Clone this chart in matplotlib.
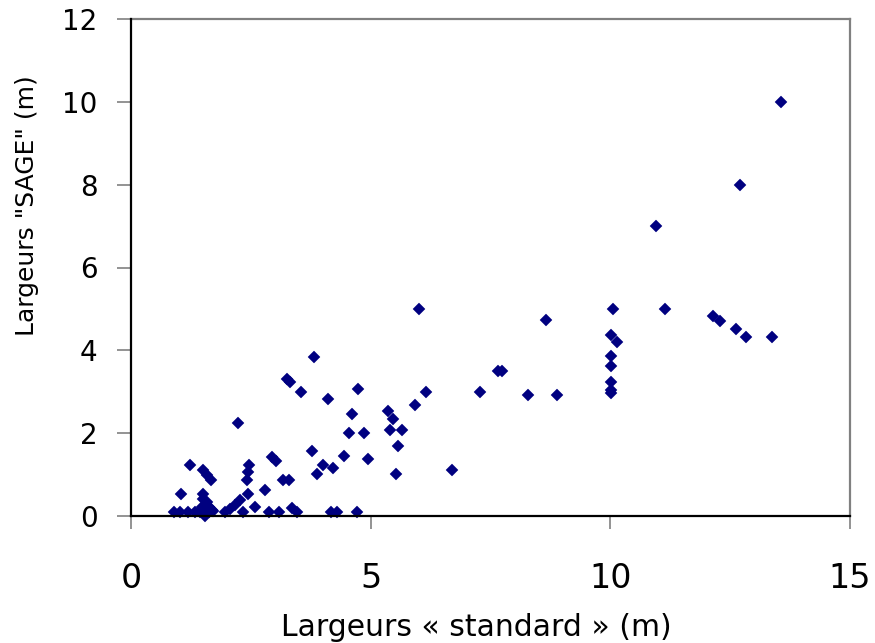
import matplotlib
matplotlib.use("Agg")
import matplotlib.pyplot as plt

# Largeurs « standard » (m)
x_standard = [
    13.56, 12.71, 10.95, 6.01, 10.06, 11.15, 8.65, 12.15, 12.28, 12.62,
    12.83, 13.37, 10.01, 10.13, 10.01, 10.01, 10.01, 10.01, 10.01, 7.65,
    7.74, 7.28, 8.28, 8.89, 6.15, 5.93, 3.82, 3.25, 3.32, 3.55,
    4.11, 4.74, 4.61, 5.36, 5.47, 4.55, 4.86, 5.40, 5.65, 5.57,
    3.77, 4.44, 4.94, 4.00, 4.21, 3.88, 5.53, 6.70, 3.18, 3.30,
    3.36, 3.46, 4.17, 4.30, 4.71, 2.23, 1.23, 1.50, 1.58, 1.67,
    2.94, 3.03, 2.46, 2.44, 2.42, 2.80, 2.44, 2.27, 2.17, 2.59,
    2.07, 1.96, 2.34, 2.88, 3.09, 1.04, 1.50, 0.90, 1.02, 1.19,
    1.34, 1.44, 1.50, 1.56, 1.62, 1.68, 1.48, 1.55, 1.62, 1.55,
    1.72, 1.58,
]
# Largeurs "SAGE" (m)
y_sage = [
    10.00, 8.00, 7.00, 5.00, 5.00, 5.00, 4.73, 4.83, 4.72, 4.51,
    4.33, 4.33, 4.38, 4.19, 3.86, 3.62, 3.24, 3.05, 2.97, 3.50,
    3.50, 2.99, 2.92, 2.92, 2.99, 2.68, 3.84, 3.30, 3.24, 2.99,
    2.82, 3.07, 2.46, 2.54, 2.34, 2.00, 2.00, 2.08, 2.08, 1.69,
    1.57, 1.45, 1.38, 1.23, 1.16, 1.01, 1.01, 1.10, 0.87, 0.87,
    0.19, 0.10, 0.10, 0.10, 0.10, 2.24, 1.23, 1.10, 1.00, 0.88,
    1.42, 1.32, 1.23, 1.06, 0.87, 0.63, 0.52, 0.39, 0.27, 0.22,
    0.17, 0.10, 0.10, 0.10, 0.10, 0.52, 0.52, 0.10, 0.10, 0.10,
    0.10, 0.10, 0.40, 0.30, 0.22, 0.15, 0.22, 0.12, 0.10, 0.00,
    0.12, 0.35,
]

x_ticks = [0, 5, 10, 15]
y_ticks = [0, 2, 4, 6, 8, 10, 12]
x_label = "Largeurs « standard » (m)"
y_label = 'Largeurs "SAGE" (m)'

plt.rcParams['font.family'] = ['DejaVu Sans']

W, H = 875, 643
fig = plt.figure(figsize=(W / 100, H / 100), dpi=100)
left, right, top, bottom = 131, 850, 19, 516
ax = fig.add_axes([left / W, 1 - bottom / H, (right - left) / W, (bottom - top) / H])

ax.plot(x_standard, y_sage, linestyle='none', marker='D', markersize=6.6,
        markerfacecolor='#000080', markeredgecolor='#000080', markeredgewidth=0.3,
        clip_on=False, zorder=3)

ax.set_xlim(0, 15)
ax.set_ylim(0, 12)
ax.set_xticks(x_ticks)
ax.set_yticks(y_ticks)
ax.set_xticklabels([str(t) for t in x_ticks])
ax.set_yticklabels([str(t) for t in y_ticks])

for s in ['left', 'bottom']:
    ax.spines[s].set_color('black')
    ax.spines[s].set_linewidth(1.6)
    ax.spines[s].set_zorder(4)
for s in ['top', 'right']:
    ax.spines[s].set_color('#808080')
    ax.spines[s].set_linewidth(1.6)

ax.tick_params(axis='x', direction='out', length=9, width=1.2, color='#808080',
               labelsize=24, pad=24)
ax.tick_params(axis='y', direction='out', length=10, width=1.2, color='#808080',
               labelsize=20, pad=14)

fig.text(27 / W, 1 - 206 / H, y_label, rotation=90, ha='center', va='center', fontsize=18)
fig.text(476 / W, 1 - 628 / H, x_label, ha='center', va='center', fontsize=21.5)

fig.savefig("out.png", dpi=100)
